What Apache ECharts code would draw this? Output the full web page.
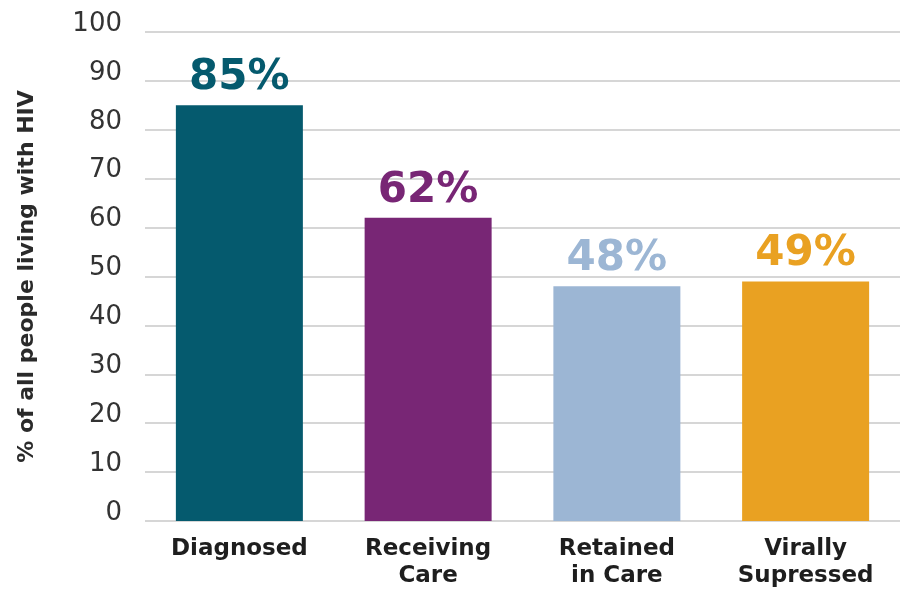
<!DOCTYPE html>
<html>
<head>
<meta charset="utf-8">
<script src="https://cdn.jsdelivr.net/npm/echarts@6/dist/echarts.min.js"></script>
<style>html,body{margin:0;padding:0;background:#fff;}#c{width:903px;height:591px;}</style>
</head>
<body>
<div id="c"></div>
<script>
const categories = ['Diagnosed', 'Receiving\nCare', 'Retained\nin Care', 'Virally\nSupressed'];
const values = [85, 62, 48, 49];
const barColors = ['#055A6E', '#782675', '#9CB6D4', '#E9A122'];
const yAxisName = '% of all people living with HIV';

const chart = echarts.init(document.getElementById('c'), null, {renderer: 'canvas'});
chart.setOption({
  animation: false,
  backgroundColor: '#ffffff',
  grid: {left: 145, right: 3, top: 32, bottom: 70, containLabel: false},
  xAxis: {
    type: 'category',
    data: categories,
    axisLine: {show: false},
    axisTick: {show: false},
    axisLabel: {
      interval: 0,
      margin: 15,
      fontFamily: 'DejaVu Sans',
      fontWeight: 'bold',
      fontSize: 23,
      lineHeight: 27,
      color: '#1e1e1e'
    }
  },
  yAxis: {
    type: 'value',
    min: 0,
    max: 100,
    interval: 10,
    name: yAxisName,
    nameLocation: 'middle',
    nameGap: 107,
    nameRotate: 90,
    nameTextStyle: {fontFamily: 'DejaVu Sans', fontWeight: 'bold', fontSize: 22, color: '#2a2a2a'},
    axisLine: {show: false},
    axisTick: {show: false},
    axisLabel: {
      margin: 23,
      fontFamily: 'DejaVu Sans',
      fontSize: 26,
      lineHeight: 16,
      verticalAlign: 'bottom',
      color: '#333333'
    },
    splitLine: {lineStyle: {color: '#d6d6d6', width: 2}}
  },
  series: [{
    type: 'bar',
    barWidth: 127,
    data: values.map((v, i) => ({
      value: v,
      itemStyle: {color: barColors[i]},
      label: {color: barColors[i]}
    })),
    label: {
      show: true,
      position: 'top',
      distance: 6,
      formatter: '{c}%',
      fontFamily: 'DejaVu Sans',
      fontWeight: 'bold',
      fontSize: 42
    }
  }]
});
</script>
</body>
</html>
